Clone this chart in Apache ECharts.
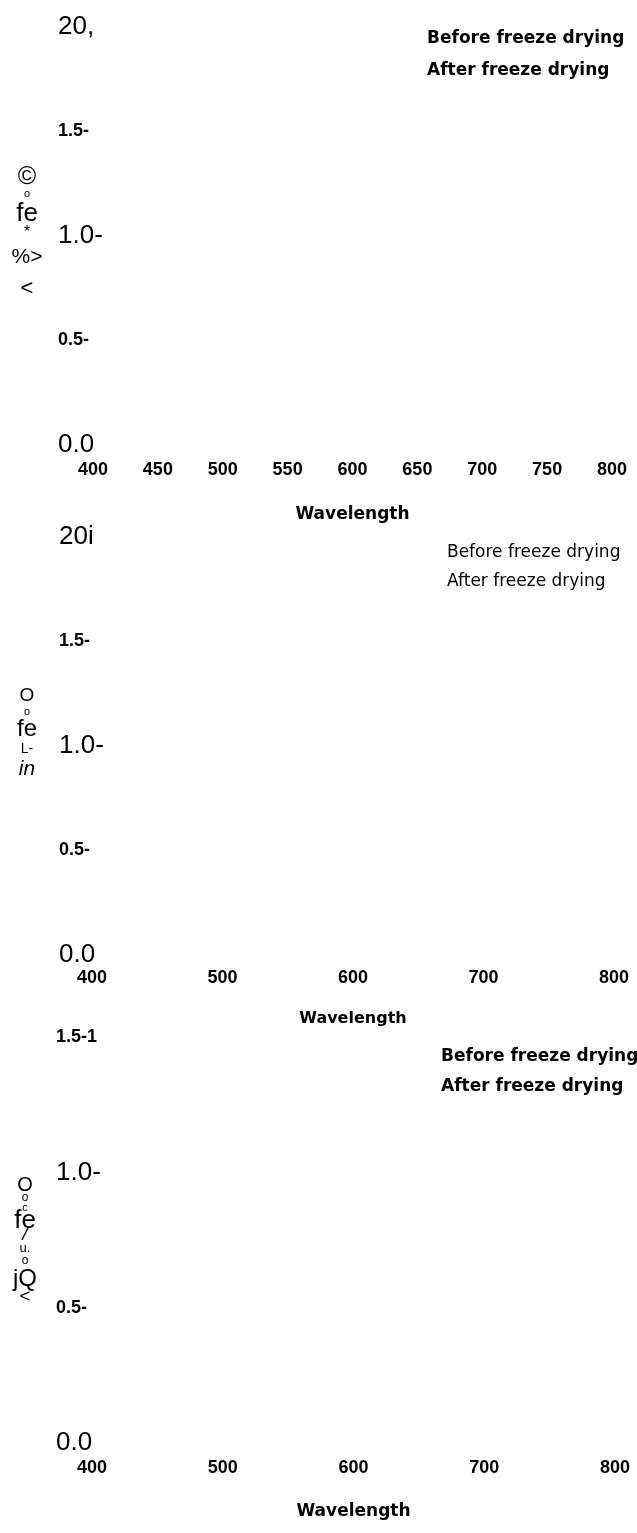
<!DOCTYPE html>
<html>
<head>
<meta charset="utf-8">
<script src="https://cdn.jsdelivr.net/npm/echarts@6/dist/echarts.min.js"></script>
<style>
html,body{margin:0;padding:0;background:#ffffff;}
#chart{width:637px;height:1533px;}
</style>
</head>
<body>
<div id="chart"></div>
<script>
// ---------- data ----------
const seriesNames = ['Before freeze drying', 'After freeze drying'];
const xTitle = 'Wavelength';
const xMin = 400, xMax = 800;
const xStep1 = 50, xStep2 = 100, xStep3 = 100;
const yStep = 0.5;
const yMax1 = 2.0, yMax2 = 2.0, yMax3 = 1.5;
const yTickLabels1 = ['0.0', '0.5-', '1.0-', '1.5-', '20,'];
const yTickLabels2 = ['0.0', '0.5-', '1.0-', '1.5-', '20i'];
const yTickLabels3 = ['0.0', '0.5-', '1.0-', '1.5-1'];
const yTitle1 = ['©', 'o', 'fe', '*', '%>', '<'];
const yTitle2 = ['O', 'o', 'fe', 'L-', 'in'];
const yTitle3 = ['O', 'o', 'c', 'fe', '/', 'u.', 'o', 'jQ', '<'];
// no curves are visible in the reference
const before1 = [], after1 = [];
const before2 = [], after2 = [];
const before3 = [], after3 = [];

// ---------- styles ----------
const titleStyle1 = [[25,18],[11,16],[26,24],[16,14],[21,34],[22,30]];
const titleStyle2 = [[19,16],[11,16],[24,18],[14,22],[21,18,'italic']];
const titleStyle3 = [[20,14],[12,12],[11,8],[26,18],[19,10,'italic'],[13,16],[12,10],[24,26],[19,10]];

const BLACK = '#000000';
const SANS = 'Liberation Sans';
const NARROW = '"Liberation Sans Narrow", "Liberation Sans", sans-serif';
const DEJAVU = '"DejaVu Sans"';

function buildTitle(lines, styles, prefix) {
  const rich = {};
  const parts = lines.map((t, j) => {
    const s = styles[j];
    const key = prefix + j;
    rich[key] = {
      fontFamily: SANS, fontSize: s[0], lineHeight: s[1],
      fontStyle: s[2] || 'normal', color: BLACK, align: 'center'
    };
    return '{' + key + '|' + t + '}';
  });
  return { text: parts.join('\n'), rich: rich };
}

const yRich = {
  big: { fontFamily: NARROW, fontSize: 26, lineHeight: 26, color: BLACK },
  bold: { fontFamily: SANS, fontWeight: 'bold', fontSize: 18, lineHeight: 20, color: BLACK }
};

function yFormatter(labels) {
  return function (value) {
    const i = Math.round(value / yStep);
    const t = labels[i] === undefined ? '' : labels[i];
    return (i % 2 === 0) ? '{big|' + t + '}' : '{bold|' + t + '}';
  };
}

const panels = [
  { grid: { left: 93, right: 25, top: 27, height: 418 }, xStep: xStep1, yMax: yMax1,
    yLabels: yTickLabels1, title: buildTitle(yTitle1, titleStyle1, 'a'), nameGapY: 66, namePad: [0,0,0,0],
    labelMarginY: 35, labelMarginX: 16, nameGapX: 61,
    legend: { left: 422, top: 29, gap: 12, weight: 'bold' },
    before: before1, after: after1 },
  { grid: { left: 92, right: 23, top: 537, height: 418 }, xStep: xStep2, yMax: yMax2,
    yLabels: yTickLabels2, title: buildTitle(yTitle2, titleStyle2, 'b'), nameGapY: 65, namePad: [0,0,26,0],
    labelMarginY: 33, labelMarginX: 14, nameGapX: 56,
    legend: { left: 442, top: 543, gap: 9, weight: 'normal' },
    before: before2, after: after2 },
  { grid: { left: 92, right: 22, top: 1037, height: 406 }, xStep: xStep3, yMax: yMax3,
    yLabels: yTickLabels3, title: buildTitle(yTitle3, titleStyle3, 'c'), nameGapY: 67, namePad: [0,0,0,0],
    labelMarginY: 36, labelMarginX: 16, nameGapX: 60,
    legend: { left: 436, top: 1047, gap: 10, weight: 'bold' },
    before: before3, after: after3 }
];

const option = {
  animation: false,
  backgroundColor: '#ffffff',
  grid: [], xAxis: [], yAxis: [], legend: [], series: []
};

panels.forEach((p, k) => {
  option.grid.push(Object.assign({ containLabel: false, outerBoundsMode: 'none', show: false }, p.grid));
  option.xAxis.push({
    type: 'value', gridIndex: k, min: xMin, max: xMax, interval: p.xStep,
    axisLine: { show: false }, axisTick: { show: false }, splitLine: { show: false },
    axisLabel: { show: true, showMinLabel: true, showMaxLabel: true, hideOverlap: false,
      margin: p.labelMarginX, fontFamily: SANS, fontWeight: 'bold', fontSize: 18, lineHeight: 18, color: BLACK },
    name: xTitle, nameLocation: 'middle', nameGap: p.nameGapX,
    nameTextStyle: { fontFamily: DEJAVU, fontWeight: 'bold', fontSize: k === 1 ? 16 : 17, color: BLACK }
  });
  option.yAxis.push({
    type: 'value', gridIndex: k, min: 0, max: p.yMax, interval: yStep,
    axisLine: { show: false }, axisTick: { show: false }, splitLine: { show: false },
    axisLabel: { show: true, showMinLabel: true, showMaxLabel: true, hideOverlap: false,
      align: 'left', verticalAlign: 'middle', margin: p.labelMarginY,
      formatter: yFormatter(p.yLabels), rich: yRich },
    name: p.title.text, nameLocation: 'middle', nameRotate: 0, nameGap: p.nameGapY,
    nameTextStyle: { align: 'center', verticalAlign: 'middle', color: BLACK,
      padding: p.namePad, rich: p.title.rich }
  });
  option.legend.push({
    data: seriesNames, orient: 'vertical', left: p.legend.left, top: p.legend.top,
    icon: 'none', itemWidth: 0, itemHeight: 0, itemGap: p.legend.gap, selectedMode: false,
    padding: 0,
    textStyle: { fontFamily: DEJAVU, fontWeight: p.legend.weight, fontSize: 17, lineHeight: 20, color: BLACK }
  });
  option.series.push({
    type: 'line', name: seriesNames[0], xAxisIndex: k, yAxisIndex: k,
    data: p.before, showSymbol: false, lineStyle: { color: BLACK }, itemStyle: { color: BLACK }
  });
  option.series.push({
    type: 'line', name: seriesNames[1], xAxisIndex: k, yAxisIndex: k,
    data: p.after, showSymbol: false, lineStyle: { color: BLACK }, itemStyle: { color: BLACK }
  });
});

const chart = echarts.init(document.getElementById('chart'), null, { renderer: 'canvas', width: 637, height: 1533 });
chart.setOption(option);
</script>
</body>
</html>
